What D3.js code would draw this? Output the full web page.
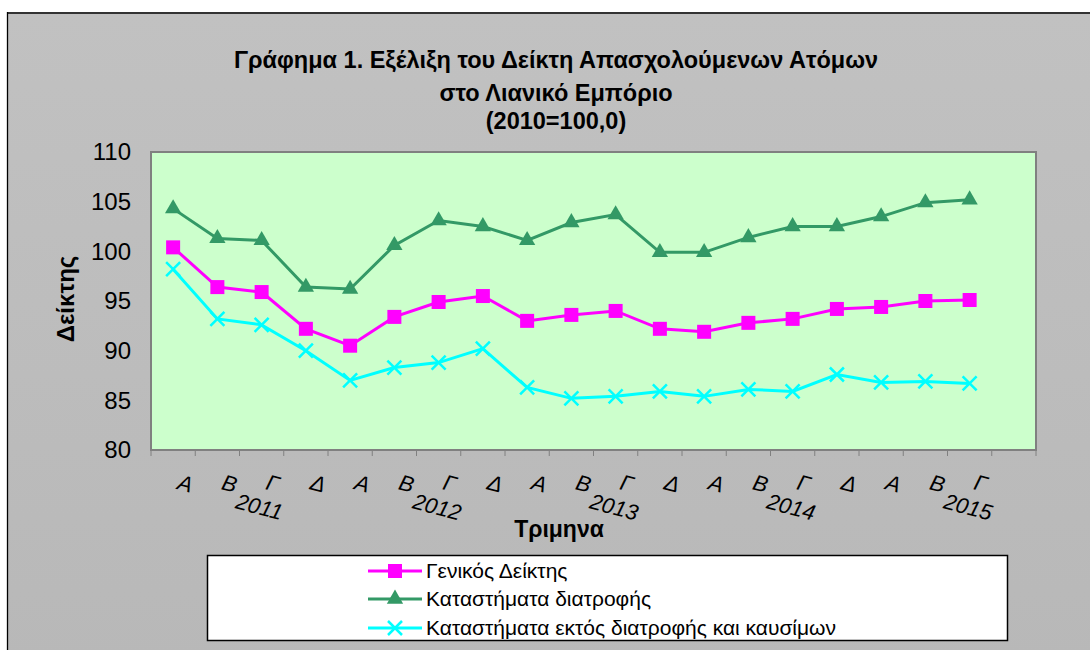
<!DOCTYPE html>
<html>
<head>
<meta charset="utf-8">
<script src="https://cdn.jsdelivr.net/npm/d3@7"></script>
<style>
  body { margin: 0; background: #fff; }
  text { font-family: "Liberation Sans", Arial, sans-serif; }
</style>
</head>
<body>
<script>
// quarter labels (last quarter of 2015 has no data yet)
let quarterLabels = ["Α","Β","Γ","Δ","Α","Β","Γ","Δ","Α","Β","Γ","Δ","Α","Β","Γ","Δ","Α","Β","Γ",""];
let years = ["2011","2012","2013","2014","2015"];

let generalIdx = [100.4, 96.4, 95.9, 92.2, 90.5, 93.4, 94.9, 95.5, 93.0, 93.6, 94.0, 92.2, 91.9, 92.8, 93.2, 94.2, 94.4, 95.0, 95.1];
let foodIdx    = [104.3, 101.3, 101.1, 96.4, 96.2, 100.6, 103.1, 102.5, 101.1, 102.9, 103.7, 99.9, 99.9, 101.4, 102.5, 102.5, 103.5, 104.9, 105.2];
let nonFoodIdx = [98.2, 93.2, 92.6, 90.0, 87.0, 88.3, 88.8, 90.2, 86.3, 85.2, 85.4, 85.9, 85.4, 86.1, 85.9, 87.6, 86.8, 86.9, 86.7];

let seriesNames = ["Γενικός Δείκτης", "Καταστήματα διατροφής", "Καταστήματα εκτός διατροφής και καυσίμων"];
let yTicks = [80, 85, 90, 95, 100, 105, 110];

let svg, x, y;
let plot = {left: 151, right: 1036, top: 152, bottom: 450};

setupSvg();
setupScales();
drawFrame();
drawAxes();
drawSeries();
drawLegend();

function setupSvg() {
  svg = d3.select("body").append("svg")
    .attr("width", 1090)
    .attr("height", 650);

  let grad = svg.append("defs").append("linearGradient")
    .attr("id", "bg").attr("x1", 0).attr("y1", 0).attr("x2", 0).attr("y2", 1);
  grad.append("stop").attr("offset", "0%").attr("stop-color", "#c1c1c1");
  grad.append("stop").attr("offset", "100%").attr("stop-color", "#b8b8b8");
}

function setupScales() {
  x = d3.scaleBand()
    .domain(d3.range(quarterLabels.length))
    .range([plot.left, plot.right]);

  y = d3.scaleLinear()
    .domain([80, 110])
    .range([plot.bottom, plot.top]);
}

function drawFrame() {
  // chart area (runs off right and bottom edge)
  svg.append("rect")
    .attr("x", 8).attr("y", 13)
    .attr("width", 1100).attr("height", 650)
    .attr("fill", "url(#bg)");
  svg.append("line")
    .attr("x1", 7).attr("x2", 1090).attr("y1", 13).attr("y2", 13)
    .attr("stroke", "#333").attr("stroke-width", 2);
  svg.append("line")
    .attr("x1", 7.5).attr("x2", 7.5).attr("y1", 12).attr("y2", 650)
    .attr("stroke", "#000").attr("stroke-width", 1.3);

  // title
  let title = svg.append("text")
    .attr("text-anchor", "middle")
    .attr("font-weight", "bold")
    .attr("font-size", 23.5);
  title.append("tspan").attr("x", 556).attr("y", 68).text("Γράφημα 1. Εξέλιξη του Δείκτη Απασχολούμενων Ατόμων");
  title.append("tspan").attr("x", 556).attr("y", 101).text("στο Λιανικό Εμπόριο");
  title.append("tspan").attr("x", 556).attr("y", 129).text("(2010=100,0)");

  // plot area
  svg.append("rect")
    .attr("x", plot.left).attr("y", plot.top)
    .attr("width", plot.right - plot.left)
    .attr("height", plot.bottom - plot.top)
    .attr("fill", "#ccffcc")
    .attr("stroke", "#808080")
    .attr("stroke-width", 2);
}

function drawAxes() {
  // y axis labels
  let yAxis = svg.append("g")
    .attr("transform", `translate(${plot.left}, 0)`)
    .call(d3.axisLeft(y).tickValues(yTicks).tickSize(0).tickPadding(20));
  yAxis.select(".domain").remove();
  yAxis.selectAll("text")
    .attr("font-family", "Liberation Sans, Arial, sans-serif")
    .attr("font-size", 24)
    .attr("fill", "#000");

  svg.append("text")
    .attr("transform", "translate(74, 299) rotate(-90)")
    .attr("text-anchor", "middle")
    .attr("font-weight", "bold")
    .attr("font-size", 24)
    .text("Δείκτης");

  // x tick marks at category boundaries
  let bounds = d3.range(quarterLabels.length + 1)
    .map(i => i < quarterLabels.length ? x(i) : x.range()[1]);
  svg.selectAll(".xtick")
    .data(bounds)
    .join("line")
    .attr("class", "xtick")
    .attr("x1", d => d).attr("x2", d => d)
    .attr("y1", plot.bottom).attr("y2", plot.bottom + 6)
    .attr("stroke", "#808080");

  // quarter labels, rotated
  svg.selectAll(".qlab")
    .data(quarterLabels)
    .join("text")
    .attr("class", "qlab")
    .attr("transform", (d, i) => `translate(${x(i) + x.bandwidth() / 2 + 3}, 489) rotate(15)`)
    .attr("font-style", "italic")
    .attr("font-size", 22)
    .text(d => d);

  // year labels, centred on each group of four quarters
  svg.selectAll(".ylab")
    .data(years)
    .join("text")
    .attr("class", "ylab")
    .attr("transform", (d, i) => `translate(${x(i * 4) + 2 * x.bandwidth() - 5}, 508) rotate(15)`)
    .attr("font-style", "italic")
    .attr("font-size", 22)
    .text(d => d);

  svg.append("text")
    .attr("x", 559).attr("y", 537)
    .attr("text-anchor", "middle")
    .attr("font-weight", "bold")
    .attr("font-size", 23)
    .text("Τριμηνα");
}

function cx(i) { return x(i) + x.bandwidth() / 2; }

function drawMarker(g, kind, px, py) {
  if (kind === "square") {
    g.append("rect")
      .attr("x", px - 7).attr("y", py - 7)
      .attr("width", 14).attr("height", 14)
      .attr("fill", "#ff00ff");
  } else if (kind === "triangle") {
    g.append("path")
      .attr("transform", `translate(${px}, ${py})`)
      .attr("d", d3.symbol(d3.symbolTriangle, 115)())
      .attr("fill", "#339966");
  } else {
    g.append("path")
      .attr("d", `M${px - 7},${py - 7}L${px + 7},${py + 7}M${px - 7},${py + 7}L${px + 7},${py - 7}`)
      .attr("stroke", "#00ffff")
      .attr("stroke-width", 2.5);
  }
}

function drawSeries() {
  let series = [
    {values: foodIdx, color: "#339966", marker: "triangle"},
    {values: generalIdx, color: "#ff00ff", marker: "square"},
    {values: nonFoodIdx, color: "#00ffff", marker: "cross"}
  ];
  let line = d3.line()
    .x((d, i) => cx(i))
    .y(d => y(d));

  series.forEach(s => {
    let g = svg.append("g");
    g.append("path")
      .datum(s.values)
      .attr("d", line)
      .attr("fill", "none")
      .attr("stroke", s.color)
      .attr("stroke-width", 3);
    s.values.forEach((v, i) => drawMarker(g, s.marker, cx(i), y(v)));
  });
}

function drawLegend() {
  svg.append("rect")
    .attr("x", 207.5).attr("y", 555.5)
    .attr("width", 800).attr("height", 85)
    .attr("fill", "#fff")
    .attr("stroke", "#000")
    .attr("stroke-width", 1.5);

  let items = [
    {name: seriesNames[0], color: "#ff00ff", marker: "square"},
    {name: seriesNames[1], color: "#339966", marker: "triangle"},
    {name: seriesNames[2], color: "#00ffff", marker: "cross"}
  ];
  let rowY = [571, 599, 628];
  items.forEach((it, i) => {
    let g = svg.append("g");
    g.append("line")
      .attr("x1", 368).attr("x2", 422)
      .attr("y1", rowY[i]).attr("y2", rowY[i])
      .attr("stroke", it.color).attr("stroke-width", 3);
    drawMarker(g, it.marker, 395, rowY[i]);
    g.append("text")
      .attr("x", 426).attr("y", rowY[i])
      .attr("dy", "0.35em")
      .attr("font-size", 21)
      .text(it.name);
  });
}
</script>
</body>
</html>
